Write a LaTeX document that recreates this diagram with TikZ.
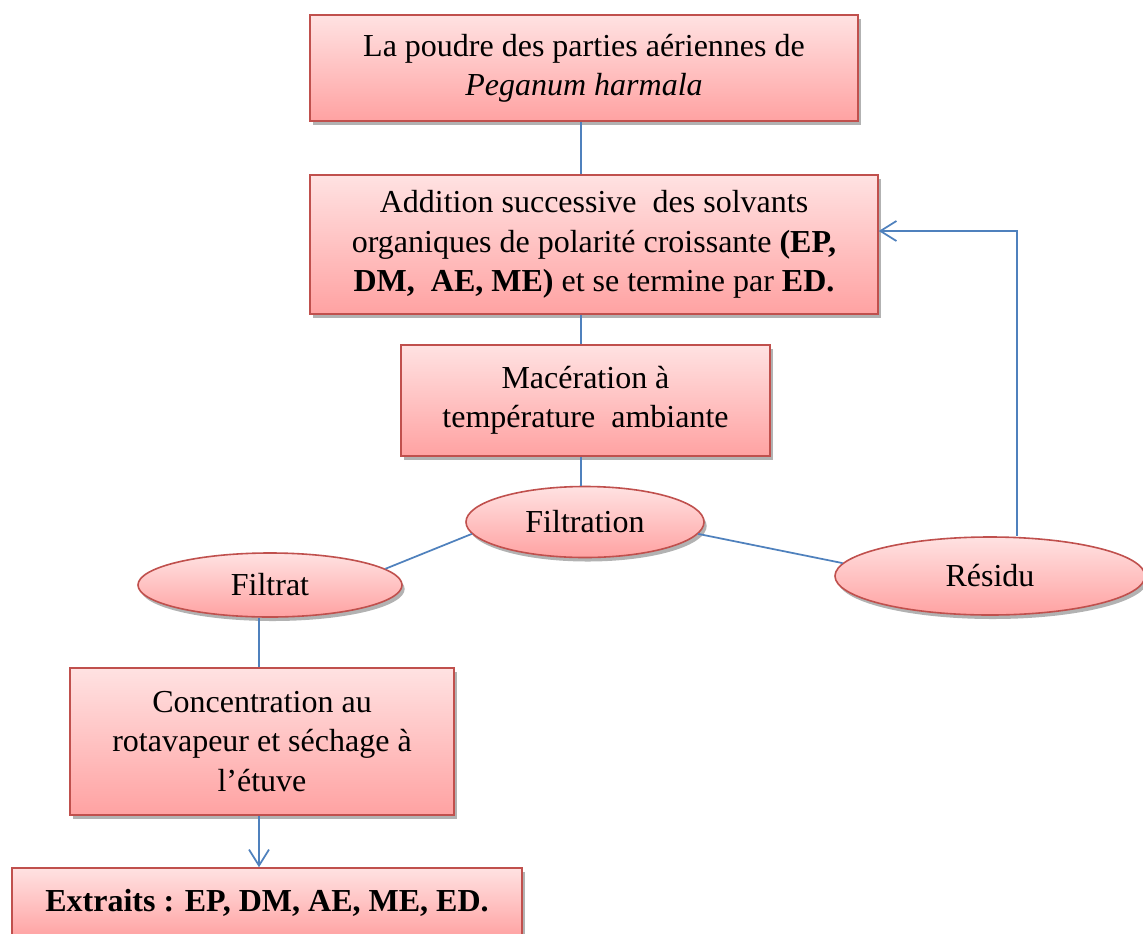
\documentclass[tikz,border=0pt]{standalone}
\usepackage{fontspec}
\setmainfont{Liberation Serif}
\usetikzlibrary{arrows.meta,shadows,shapes.geometric}
\definecolor{bordred}{RGB}{192,80,77}
\definecolor{topc}{RGB}{255,226,226}
\definecolor{botc}{RGB}{255,162,162}
\definecolor{linkc}{RGB}{79,129,189}
\tikzset{
  shaped/.style={draw=bordred, line width=1.2pt, top color=topc, bottom color=botc,
    align=center, inner sep=0pt, font=\fontsize{24}{29.5}\selectfont,
    drop shadow={shadow xshift=2pt, shadow yshift=-3pt, opacity=0.3, fill=black}},
  stepbox/.style={shaped, rectangle},
  ovalbox/.style={shaped, ellipse},
  link/.style={draw=linkc, line width=1.3pt},
  barb/.style={-{Straight Barb[length=12pt, width=15pt, line width=1.3pt]}}
}
\begin{document}
\begin{tikzpicture}[x=0.75pt, y=-0.75pt]
\clip (0,0) rectangle (1143,933);
\fill[white] (0,0) rectangle (1143,933);

\node[stepbox, minimum width=411pt, minimum height=79.5pt] (b1) at (584,68)
  {La poudre des parties aériennes de\\\textit{Peganum harmala}};
\node[stepbox, minimum width=426pt, minimum height=104.25pt] (b2) at (594,244.5)
  {Addition successive\ \ des solvants\\organiques de polarité croissante \textbf{(EP,}\\\textbf{DM,\ \ AE, ME)} et se termine par \textbf{ED.}};
\node[stepbox, minimum width=276.75pt, minimum height=83.25pt] (b3) at (585.5,400.5)
  {Macération à\\température\ \ ambiante};
\node[ovalbox, minimum width=178.5pt, minimum height=53.25pt] (filtration) at (585,522) {Filtration};
\node[ovalbox, minimum width=198pt, minimum height=48pt] (filtrat) at (270,585) {Filtrat};
\node[ovalbox, minimum width=232.5pt, minimum height=58.5pt] (residu) at (990,576) {Résidu};
\node[stepbox, minimum width=288pt, minimum height=110.25pt] (b4) at (262,741.5)
  {Concentration au\\rotavapeur et séchage à\\l’étuve};
\node[stepbox, minimum width=382.5pt, minimum height=52.5pt] (b5) at (267,903)
  {\textbf{Extraits : EP, DM, AE, ME, ED.}};

\coordinate (mx) at (581,0);
\coordinate (lx) at (259,0);
\coordinate (rc) at (1017,231);
\draw[link] (mx |- b1.south) -- (mx |- b2.north);
\draw[link] (mx |- b2.south) -- (mx |- b3.north);
\draw[link] (mx |- b3.south) -- (mx |- filtration.north);
\draw[link] (filtration.186) -- (filtrat.8);
\draw[link] (filtration.354) -- (residu.175);
\draw[link] (lx |- filtrat.south) -- (lx |- b4.north);
\draw[link, barb] (lx |- b4.south) -- (lx |- b5.north);
\draw[link, barb] (rc |- residu.north) -- (rc) -- (rc -| b2.east);
\end{tikzpicture}
\end{document}
